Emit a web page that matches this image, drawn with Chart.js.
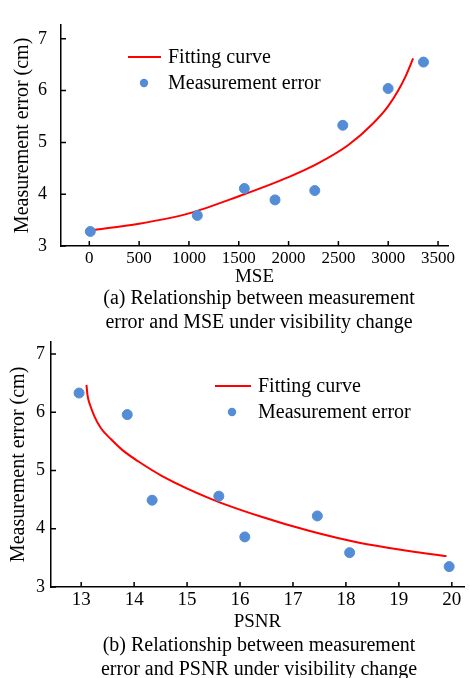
<!doctype html>
<html lang="en">
    <head>
        <meta charset="UTF-8" />
        <title>Measurement error vs MSE / PSNR</title>
        <style>
            body { margin: 0; width: 470px; height: 678px; overflow: hidden; background: #fff; position: relative; }
            canvas { position: absolute; left: 0; }
            #c1 { top: 0; }
            #c2 { top: 325px; }
            .caption {
                position: absolute;
                left: 0;
                width: 518px;
                text-align: center;
                font-family: "Liberation Serif", "Times New Roman", serif;
                font-size: 20px;
                color: #000;
            }
            #cap1 { top: 285px; line-height: 24px; }
            #cap2 { top: 633px; line-height: 23.5px; }
        </style>
    </head>
    <body>
        <canvas id="c1" width="470" height="290"></canvas>
        <canvas id="c2" width="470" height="310"></canvas>
        <div class="caption" id="cap1">(a) Relationship between measurement<br />error and MSE under visibility change</div>
        <div class="caption" id="cap2">(b) Relationship between measurement<br />error and PSNR under visibility change</div>

        <script src="https://cdn.jsdelivr.net/npm/chart.js"></script>
        <script>
            // data, chart (a)
            const mseX = [10, 1084, 1556, 1864, 2263, 2544, 2999, 3354];
            const mseErr = [3.28, 3.59, 4.11, 3.89, 4.07, 5.33, 6.04, 6.55];
            const mseFitX = [10, 500, 1000, 1500, 2000, 2300, 2600, 2850, 3000, 3100, 3180, 3250];
            const mseFitY = [3.30, 3.43, 3.63, 3.96, 4.33, 4.60, 4.95, 5.37, 5.70, 6.00, 6.30, 6.62];
            const mseTicks = [0, 500, 1000, 1500, 2000, 2500, 3000, 3500];

            // data, chart (b)
            const psnrX = [12.96, 13.87, 14.34, 15.60, 16.09, 17.46, 18.07, 19.95];
            const psnrErr = [6.33, 5.96, 4.49, 4.56, 3.86, 4.22, 3.59, 3.35];
            const psnrFitX = [13.10, 13.12, 13.17, 13.25, 13.37, 13.56, 13.78, 14.09, 14.52, 15.46, 16.39, 17.32, 18.25, 19.19, 19.90];
            const psnrFitY = [6.47, 6.29, 6.12, 5.93, 5.73, 5.54, 5.35, 5.15, 4.91, 4.51, 4.21, 3.96, 3.76, 3.62, 3.53];
            const psnrTicks = [13, 14, 15, 16, 17, 18, 19, 20];

            const errTicks = [3, 4, 5, 6, 7];

            const SERIF = "'Liberation Serif', 'Times New Roman', serif";
            const BLUE = "#548dd6";
            const RED = "#ff0000";

            Chart.defaults.font.family = SERIF;
            Chart.defaults.color = "#000";

            const toPts = (xs, ys) => xs.map((x, i) => ({ x: x, y: ys[i] }));

            // short ticks pointing into the plot area
            const innerTicks = {
                id: "innerTicks",
                afterDraw(chart) {
                    const { ctx, chartArea: { left, bottom }, scales: { x, y } } = chart;
                    ctx.save();
                    ctx.strokeStyle = "#000";
                    ctx.lineWidth = 1.5;
                    ctx.beginPath();
                    x.ticks.forEach((t) => {
                        const px = x.getPixelForValue(t.value);
                        ctx.moveTo(px, bottom);
                        ctx.lineTo(px, bottom - 5);
                    });
                    y.ticks.forEach((t) => {
                        const py = y.getPixelForValue(t.value);
                        ctx.moveTo(left, py);
                        ctx.lineTo(left + 5, py);
                    });
                    ctx.stroke();
                    ctx.restore();
                },
            };

            // legend drawn at a fixed spot inside the plot
            const boxLegend = {
                id: "boxLegend",
                afterDatasetsDraw(chart, args, opts) {
                    const ctx = chart.ctx;
                    const fit = chart.data.datasets[1];
                    const pts = chart.data.datasets[0];
                    ctx.save();
                    ctx.strokeStyle = fit.borderColor;
                    ctx.lineWidth = fit.borderWidth;
                    ctx.beginPath();
                    ctx.moveTo(opts.lineX0, opts.row1);
                    ctx.lineTo(opts.lineX1, opts.row1);
                    ctx.stroke();
                    ctx.fillStyle = pts.backgroundColor;
                    ctx.beginPath();
                    ctx.arc(opts.dotX, opts.row2, 4.2, 0, Math.PI * 2);
                    ctx.fill();
                    ctx.fillStyle = "#000";
                    ctx.font = "20px " + SERIF;
                    ctx.textBaseline = "middle";
                    ctx.fillText(fit.label, opts.textX, opts.row1 + 1);
                    ctx.fillText(pts.label, opts.textX, opts.row2 + 1);
                    ctx.restore();
                },
            };

            function makeChart(id, cfg) {
                return new Chart(document.getElementById(id).getContext("2d"), {
                    type: "scatter",
                    data: {
                        datasets: [
                            {
                                label: "Measurement error",
                                data: toPts(cfg.px, cfg.py),
                                backgroundColor: BLUE,
                                borderColor: BLUE,
                                pointRadius: 5,
                                order: 0,
                            },
                            {
                                label: "Fitting curve",
                                data: toPts(cfg.fx, cfg.fy),
                                showLine: true,
                                borderColor: RED,
                                borderWidth: 2,
                                pointRadius: 0,
                                cubicInterpolationMode: "monotone",
                                order: 1,
                            },
                        ],
                    },
                    options: {
                        responsive: false,
                        animation: false,
                        layout: { padding: cfg.pad },
                        plugins: {
                            legend: { display: false },
                            tooltip: { enabled: false },
                            boxLegend: cfg.legend,
                        },
                        scales: {
                            x: {
                                type: "linear",
                                min: cfg.xMin,
                                max: cfg.xMax,
                                afterBuildTicks: (s) => { s.ticks = cfg.xTicks.map((v) => ({ value: v })); },
                                afterFit: (s) => { s.height = cfg.xH; },
                                grid: { display: false, drawTicks: false },
                                border: { display: true, color: "#000", width: 1.5 },
                                ticks: {
                                    padding: 2,
                                    font: { size: cfg.xFont },
                                    maxRotation: 0,
                                    autoSkip: false,
                                    callback: (v) => String(v),
                                },
                                title: { display: true, text: cfg.xTitle, font: { size: 19 }, padding: { top: 0, bottom: 2 } },
                            },
                            y: {
                                min: 3,
                                max: cfg.yMax,
                                afterBuildTicks: (s) => { s.ticks = errTicks.map((v) => ({ value: v })); },
                                afterFit: (s) => { s.width = cfg.yW; },
                                grid: { display: false, drawTicks: false },
                                border: { display: true, color: "#000", width: 1.5 },
                                ticks: { padding: cfg.yPad, font: { size: 18 }, callback: (v) => String(v) },
                                title: { display: true, text: "Measurement error (cm)", font: { size: 20 }, padding: { top: cfg.yTitlePad, bottom: 0 } },
                            },
                        },
                    },
                    plugins: [innerTicks, boxLegend],
                });
            }

            makeChart("c1", {
                px: mseX, py: mseErr, fx: mseFitX, fy: mseFitY,
                xTicks: mseTicks, xMin: -284, xMax: 3600, yMax: 7.27,
                xTitle: "MSE", xFont: 17, xH: 44, yW: 61, yPad: 14, yTitlePad: 11,
                pad: { top: 8, right: 22, left: 0, bottom: 0 },
                legend: { lineX0: 128, lineX1: 161, dotX: 144, textX: 168, row1: 57, row2: 83 },
            });

            makeChart("c2", {
                px: psnrX, py: psnrErr, fx: psnrFitX, fy: psnrFitY,
                xTicks: psnrTicks, xMin: 12.43, xMax: 20.23, yMax: 7.21,
                xTitle: "PSNR", xFont: 19, xH: 48, yW: 51, yPad: 6, yTitlePad: 7,
                pad: { top: 10, right: 1, left: 0, bottom: 0 },
                legend: { lineX0: 215, lineX1: 251, dotX: 232, textX: 258, row1: 61, row2: 87 },
            });
        </script>
    </body>
</html>
